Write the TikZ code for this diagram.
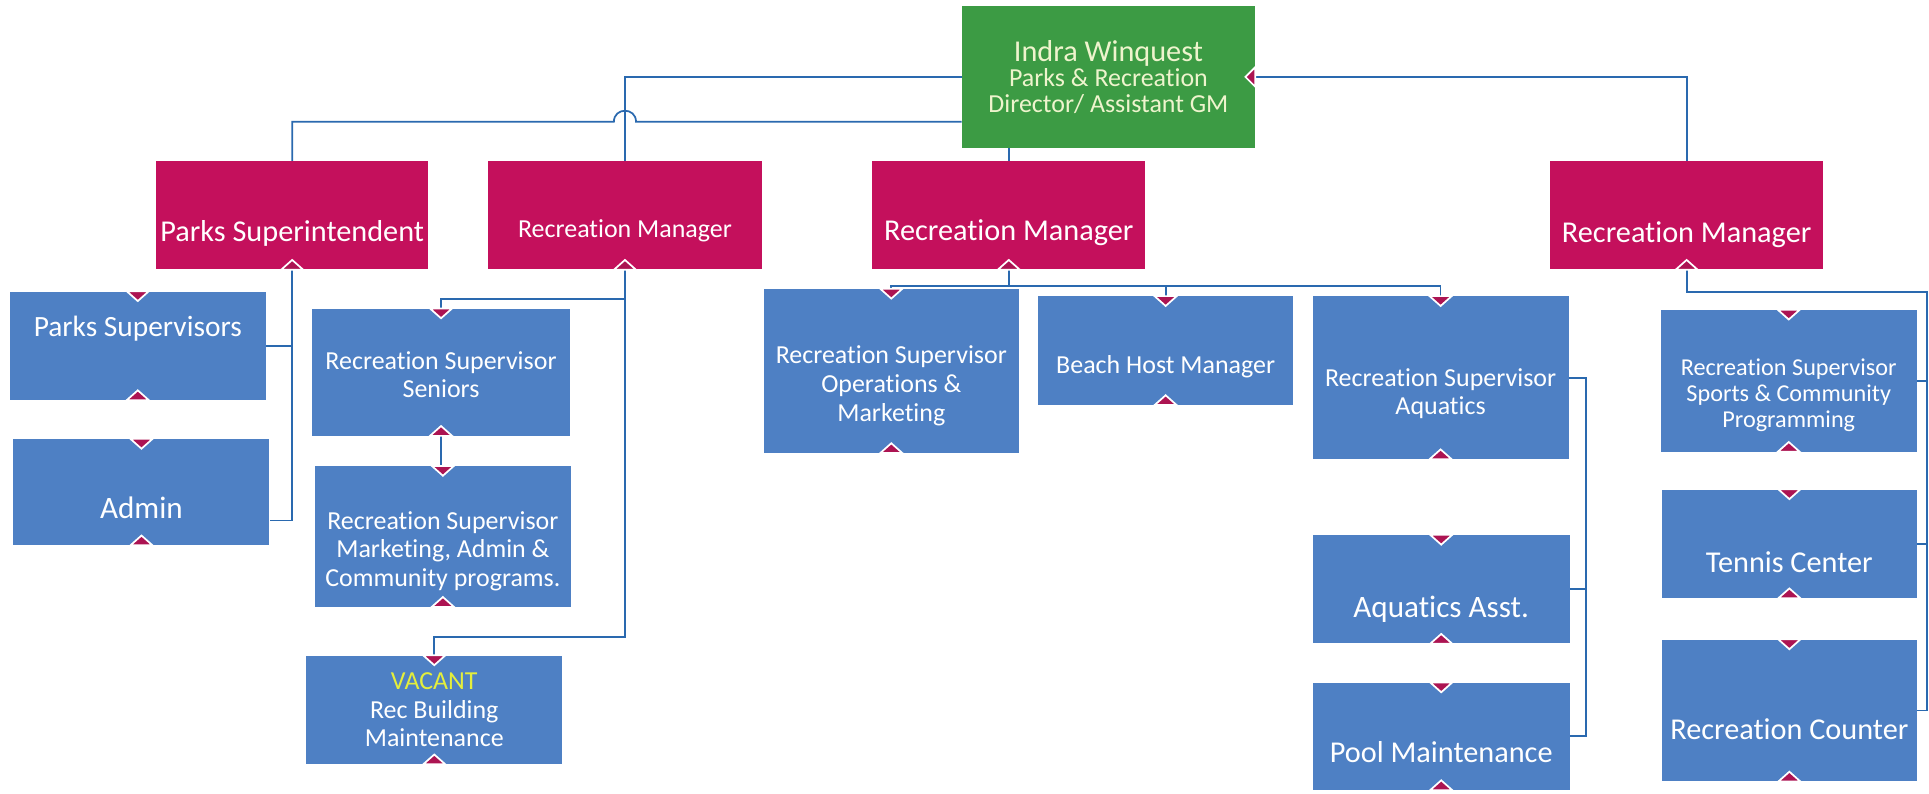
\documentclass[tikz,border=0pt]{standalone}
\usepackage{fontspec}
\setmainfont{Carlito}[Ligatures={NoCommon}]
\usetikzlibrary{positioning}

\definecolor{dirgreen}{RGB}{60,155,68}
\definecolor{dirtext}{RGB}{238,244,205}
\definecolor{mgrred}{RGB}{196,16,92}
\definecolor{staffblue}{RGB}{78,128,196}
\definecolor{linkblue}{RGB}{42,105,175}
\definecolor{tipred}{RGB}{172,20,82}
\definecolor{vacant}{RGB}{228,238,60}

\tikzset{
  box/.style={rectangle, inner sep=0pt, minimum width=5.2cm, minimum height=2.2cm},
  mgr/.style={box, fill=mgrred, minimum width=5.55cm},
  staff/.style={box, fill=staffblue},
  big/.style={text=white, align=center, font=\fontsize{17.5}{20}\selectfont},
  small/.style={text=white, align=center, font=\fontsize{15}{16.6}\selectfont},
  link/.style={draw=linkblue, line width=1pt},
  tip/.style={fill=tipred, draw=white, line width=1pt, line join=miter}
}

\begin{document}
\begin{tikzpicture}[x=0.025cm, y=-0.025cm]
  \useasboundingbox[fill=white] (0,0) rectangle (1568,645);

  % director
  \node[box, fill=dirgreen, minimum width=5.95cm, minimum height=2.875cm,
        text=dirtext, align=center, font=\fontsize{15}{14.8}\selectfont] (dir) at (901,62.5)
        {{\fontsize{17.5}{19}\selectfont Indra Winquest}\\Parks \& Recreation\\Director/ Assistant GM};

  % managers
  \node[mgr, minimum width=5.525cm] (psup) at (237.5,175) {};
  \node[mgr] (rm1) at (508,175) {};
  \node[mgr] (rm2) at (820,175) {};
  \node[mgr] (rm3) at (1371,175) {};
  \node[big] (psup-t) at ([yshift=-0.375cm]psup.center) {Parks Superintendent};
  \node[small] (rm1-t) at ([yshift=-0.325cm]rm1.center) {Recreation Manager};
  \node[big] (rm2-t) at ([yshift=-0.35cm]rm2.center) {Recreation Manager};
  \node[big] (rm3-t) at ([yshift=-0.4cm]rm3.center) {Recreation Manager};

  % parks
  \node[staff] (psv) at (112,281) {};
  \node[staff, minimum height=2.15cm] (adm) at (115,400) {};
  \node[big, font=\fontsize{17}{20}\selectfont] (psv-t) at ([yshift=0.35cm]psv.center) {Parks Supervisors};
  \node[big, font=\fontsize{18}{20}\selectfont] (adm-t) at ([yshift=-0.325cm]adm.center) {Admin};

  % recreation, seniors
  \node[staff, minimum width=5.225cm, minimum height=2.575cm] (sen) at (358.5,302.5) {};
  \node[staff, minimum height=2.85cm] (mkt) at (360,436) {};
  \node[staff] (vac) at (353,577) {};
  \node[small] (sen-t) at ([yshift=-0.05cm]sen.center) {Recreation Supervisor\\Seniors};
  \node[small] (mkt-t) at ([yshift=-0.3cm]mkt.center) {Recreation Supervisor\\Marketing, Admin \&\\Community programs.};
  \node[small] (vac-t) at (vac.center) {{\color{vacant}VACANT}\\Rec Building\\Maintenance};

  % recreation, operations
  \node[staff, minimum width=5.175cm, minimum height=3.325cm] (ops) at (724.5,301.5) {};
  \node[staff, minimum width=5.175cm] (bch) at (947.5,285) {};
  \node[staff, minimum height=3.3cm] (aqu) at (1171,307) {};
  \node[staff, minimum width=5.225cm] (asst) at (1171.5,479) {};
  \node[staff, minimum width=5.225cm, minimum height=2.175cm] (pool) at (1171.5,598.5) {};
  \node[small] (ops-t) at ([yshift=-0.3cm]ops.center) {Recreation Supervisor\\Operations \&\\Marketing};
  \node[small] (bch-t) at ([yshift=-0.325cm]bch.center) {Beach Host Manager};
  \node[small] (aqu-t) at ([yshift=-0.325cm]aqu.center) {Recreation Supervisor\\Aquatics};
  \node[big, font=\fontsize{18}{20}\selectfont] (asst-t) at ([yshift=-0.4cm]asst.center) {Aquatics Asst.};
  \node[big] (pool-t) at ([yshift=-0.325cm]pool.center) {Pool Maintenance};

  % recreation, sports
  \node[staff, minimum height=2.875cm] (spt) at (1454,309.5) {};
  \node[staff, minimum width=5.175cm] (ten) at (1454.5,442) {};
  \node[staff, minimum width=5.175cm, minimum height=2.875cm] (cnt) at (1454.5,577.5) {};
  \node[small, font=\fontsize{14}{15}\selectfont] (spt-t) at ([yshift=-0.3cm]spt.center) {Recreation Supervisor\\Sports \& Community\\Programming};
  \node[big] (ten-t) at ([yshift=-0.375cm]ten.center) {Tennis Center};
  \node[big] (cnt-t) at ([yshift=-0.375cm]cnt.center) {Recreation Counter};

  % links from the director
  \coordinate (hop) at (rm1.north |- 0,99);
  \draw[link] (dir.west) -| (rm1.north);
  \draw[link] ([yshift=-0.9125cm]dir.west) -- ([xshift=0.225cm]hop)
    .. controls +(0,-12) and +(0,-12) .. ([xshift=-0.225cm]hop) -| (psup.north);
  \draw[link] (dir.east) -| (rm3.north);
  \draw[link] (rm2.north) -- (rm2.north |- dir.south);

  % parks links
  \draw[link] (psup.south) |- ([yshift=-0.575cm]adm.east);
  \draw[link] (psv.east) -| (psup.south);

  % recreation links
  \coordinate (bus1) at ([yshift=-0.6cm]rm1.south);
  \draw[link] (rm1.south) |- ([yshift=0.375cm]vac.north) -- (vac.north);
  \draw[link] (bus1) -| (sen.north);
  \draw[link] (sen.south) -- (sen.south |- mkt.north);

  \coordinate (bus2) at ([yshift=-0.325cm]rm2.south);
  \draw[link] (rm2.south) -- (bus2);
  \draw[link] (ops.north) |- (bus2) -| (aqu.north);
  \draw[link] (bch.north) -- (bch.north |- bus2);
  \coordinate (aqline) at ([xshift=0.35cm]aqu.east);
  \draw[link] (aqu.east) -- (aqline) |- (pool.east);
  \draw[link] (asst.east) -- (asst.east -| aqline);

  \coordinate (bus3) at ([yshift=-0.45cm]rm3.south);
  \coordinate (rline) at ([xshift=0.2cm]cnt.east);
  \draw[link] (rm3.south) -- (bus3) -| (rline) -- (cnt.east);
  \draw[link] (spt.east) -- (spt.east -| rline);
  \draw[link] (ten.east) -- (ten.east -| rline);

  % tips
  \foreach \n in {psv,adm,sen,mkt,vac,ops,bch,aqu,asst,pool,spt,ten,cnt}
    \filldraw[tip] (\n.north) ++(-9,0) -- ++(18,0) -- ++(-9,8) -- cycle;
  \foreach \n in {psup,rm1,rm2,rm3,psv,adm,sen,mkt,vac,ops,bch,aqu,asst,pool,spt,ten,cnt}
    \filldraw[tip] (\n.south) ++(-9,0) -- ++(18,0) -- ++(-9,-8) -- cycle;
  \filldraw[tip] (dir.east) ++(0,-8) -- ++(0,16) -- ++(-8,-8) -- cycle;
\end{tikzpicture}
\end{document}
